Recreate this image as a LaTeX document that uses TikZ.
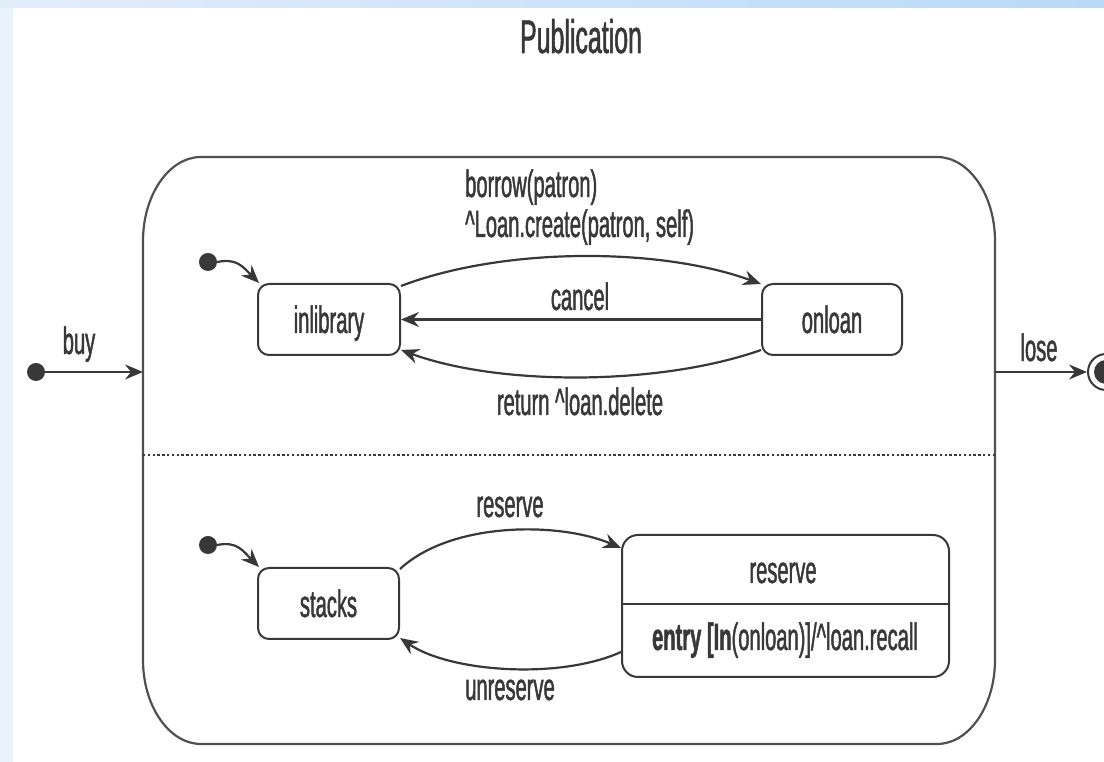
\documentclass[tikz,border=0pt]{standalone}
\usepackage{fontspec}
\setmainfont{Liberation Sans}[FakeStretch=0.53, FakeBold=1.2]
\usetikzlibrary{arrows.meta}
\definecolor{ink}{HTML}{383838}
\definecolor{frame}{HTML}{505050}
\definecolor{bandA}{HTML}{E2EDFA}
\definecolor{bandB}{HTML}{B9D9F8}
\definecolor{bandL}{HTML}{EAF2FC}
\begin{document}
\begin{tikzpicture}[x=1pt,y=1pt,line join=round,
  lab/.style={text=ink, font=\fontsize{38}{40}\selectfont, inner sep=0pt, anchor=base},
  stbox/.style={draw=ink, line width=2pt, rounded corners=11pt, inner sep=0pt,
     text height=30pt, text depth=3pt, font=\fontsize{38}{40}\selectfont, text=ink},
  tr/.style={draw=ink, line width=2.2pt, -{Stealth[length=18pt,width=15pt,inset=6pt]}},
  initdot/.style={circle, fill=ink, minimum size=18pt, inner sep=0pt},
]
\useasboundingbox (0,0) rectangle (1104,762);
\fill[bandL] (0,0) rectangle (13,754);
\shade[left color=bandA, right color=bandB] (0,754) rectangle (1104,762);

% outer composite state
\draw[frame, line width=2.2pt] (201,605) -- (937,605)
  .. controls (969,605) and (995,567) .. (995,521) -- (995,102)
  .. controls (995,56) and (969,18) .. (937,18) -- (201,18)
  .. controls (169,18) and (143,56) .. (143,102) -- (143,521)
  .. controls (143,567) and (169,605) .. (201,605) -- cycle;
\draw[ink, line width=2.6pt, dash pattern=on 2.4pt off 2.4pt] (143,307) -- (995,307);

\node[lab, font=\fontsize{47}{50}\selectfont] (title) at (581,709) {Publication};

% states
\node[stbox, minimum width=142pt, minimum height=71pt] (inl) at (329,442.5) {inlibrary};
\node[stbox, minimum width=140pt, minimum height=71pt] (onl) at (832,442.5) {onloan};
\node[stbox, minimum width=141pt, minimum height=71pt] (stk) at (328.5,158.5) {stacks};
\node[draw=ink, line width=2pt, rounded corners=16pt, minimum width=327pt, minimum height=142pt, inner sep=0pt] (rsv) at (785.5,156) {};
\coordinate (rsdiv) at (785.5,158);
\draw[ink, line width=2pt] (rsv.west |- rsdiv) -- (rsv.east |- rsdiv);
\node[lab] (rsvname) at (783,179) {reserve};
\node[lab] (rsvact) at (785,112) {\textbf{entry [In}(onloan)]/\textasciicircum loan.recall};

% initial pseudo-states
\node[initdot] (i1) at (208,500) {};
\draw[tr] (i1.east) .. controls +(20,4) and +(-16,16) .. ([xshift=2pt]inl.north west);
\node[initdot] (i2) at (208,217) {};
\draw[tr] (i2.east) .. controls +(20,4) and +(-16,16) .. ([xshift=2pt]stk.north west);

% upper transitions
\draw[tr] ([yshift=-3pt]inl.north east) .. controls +(102,39) and +(-102,37) .. ([yshift=-1pt]onl.north west);
\draw[tr] (onl.west) -- (inl.east);
\draw[tr] ([yshift=-30.5pt]onl.west) .. controls +(-102,-36) and +(98,-36) .. ([yshift=-30.5pt]inl.east);

% lower transitions
\draw[tr] ([yshift=-2pt]stk.north east) .. controls +(52,48) and +(-61,26) .. ([yshift=58pt]rsv.west);
\draw[tr] ([yshift=-46pt]rsv.west) .. controls +(-62,-28) and +(50,-34) .. ([yshift=-34.5pt]stk.east);

% labels
\node[lab, anchor=base west] (lborrow1) at (465,565) {borrow(patron)};
\node[lab, anchor=base west] (lborrow2) at (465,525) {\textasciicircum Loan.create(patron, self)};
\node[lab] (lcancel) at (580,452) {cancel};
\node[lab] (lreturn) at (580,347) {return \textasciicircum loan.delete};
\node[lab] (lreserve) at (510,245) {reserve};
\node[lab] (lunres) at (510,62) {unreserve};

% buy / lose
\node[initdot] (i0) at (36,390) {};
\coordinate (bbw) at (143,390);
\draw[tr] (i0.east) -- (bbw);
\node[lab] (lbuy) at (79,408) {buy};
\coordinate (bbe) at (995,390);
\node[circle, draw=ink, line width=2pt, minimum size=36pt, inner sep=0pt] (fin) at (1106,390) {};
\node[circle, fill=ink, minimum size=24pt, inner sep=0pt] (fincore) at (fin.center) {};
\draw[tr] (bbe) -- (fin.west);
\node[lab] (llose) at (1039,401) {lose};
\end{tikzpicture}
\end{document}
